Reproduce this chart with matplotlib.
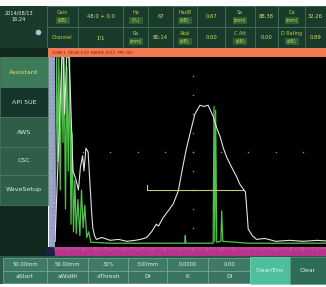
import matplotlib
matplotlib.use("Agg")
import matplotlib.pyplot as plt
from matplotlib.patches import Rectangle

### DATA
# header readings: (label, unit, value) for the two rows
row1_labels = ["Gain", "Ha", "HadB", "Sa", "Da"]
row1_units = ["(dB)", "(%)", "(dB)", "(mm)", "(mm)"]
row1_values = ["48.0 + 0.0", "67", "0.67", "88.38", "32.26"]
row2_labels = ["Channel", "Ra", "Akal", "C Att", "D Rating"]
row2_units = ["", "(mm)", "(dB)", "(dB)", "(dB)"]
row2_values = ["1/1", "80.14", "0.00", "0.00", "0.89"]

menu_items = ["Assistant", "API 5UE", "AWS", "CSC", "WaveSetup"]

param_values = ["50.00mm", "50.00mm", "30%", "3.00mm", "0.0000", "0.00"]
param_names = ["aStart", "aWidth", "aThresh", "Dr", "K", "Di"]

# A-scan, % of screen width vs % amplitude
white_x = [0, 1.5, 2.5, 3.0, 3.5, 4.2, 5.0, 5.5, 6.5, 7.5, 8.5, 9.2, 10.0, 10.5,
           11.2, 12.0, 12.6, 13.2, 13.7, 14.3, 15, 17, 20, 23, 26, 29, 31, 33.2,
           35, 36.7, 37.5, 39.2, 41, 42.8, 44, 44.7, 45.5, 46.5, 47.5, 48.9, 50,
           50.7, 52.5, 54, 55.5, 57.4, 58.5, 59.9, 61, 62.2, 64, 65.9, 67, 68.2,
           69, 69.6, 70, 71.5, 73, 76, 80, 85, 90, 95, 100]
white_y = [3, 60, 100, 100, 70, 100, 100, 85, 40, 36, 30, 42, 48, 40,
           52, 50, 35, 20, 10, 6, 4, 5, 3.5, 4, 3, 3.5, 4, 5,
           8, 12, 11, 15.5, 19, 22.6, 27, 29.6, 36, 43.7, 51, 59.6, 66,
           70, 74.6, 74, 74.6, 68.4, 63, 57.8, 52, 47.3, 42, 36.7, 33, 30.5,
           29, 18, 9.4, 6, 4, 4.5, 3, 3.5, 3, 3.5, 3]

green_x = [0, 0.6, 1.0, 1.4, 1.9, 2.4, 2.9, 3.3, 3.8, 4.3, 4.8, 5.3, 5.8, 6.2,
           6.7, 7.2, 7.7, 8.3, 9.0, 9.6, 10.2, 10.8, 11.5, 12.2, 13, 20, 30, 40,
           47, 47.2, 47.4, 55, 57.3, 57.6, 57.9, 58.2, 58.6, 60.1, 60.4, 60.8,
           70, 80, 90, 100]
green_y = [3, 100, 45, 100, 30, 100, 55, 100, 20, 95, 40, 100, 12, 60,
           8, 35, 7, 25, 6, 30, 10, 22, 5, 8, 2.5, 2, 2, 2,
           2, 6, 2, 2, 2, 74, 3, 72, 2.5, 3, 19, 3,
           2, 2, 2, 2]

gate_start, gate_end, gate_level = 33.2, 68.2, 30

### FIGURE
fig = plt.figure(figsize=(3.26, 2.87), dpi=100)
fig.patch.set_facecolor("white")
ui = fig.add_axes([0, 0, 1, 1])
ui.set_xlim(0, 326)
ui.set_ylim(287, 0)
ui.axis("off")


def box(x0, y0, x1, y1, fc, ec="none", lw=0.5):
    ui.add_patch(Rectangle((x0, y0), x1 - x0, y1 - y0, facecolor=fc,
                           edgecolor=ec, linewidth=lw))


### HEADER
box(0, 6, 326, 48, "#1a3a2b")
ui.text(19, 13, "2014/08/13", color="#e4eee8", fontsize=3.6, ha="center", va="center")
ui.text(19, 19.5, "16:24", color="#e4eee8", fontsize=3.6, ha="center", va="center")
ui.plot(38, 32, marker="o", ms=3, color="#a8c4d8")
box(8, 50, 17, 54, "#d8dde0")

col_edges = [47, 123, 173, 225, 278, 326]
col_split = [78, 148, 197, 255, 305]
for row, (labels, units, values) in enumerate(
        [(row1_labels, row1_units, row1_values), (row2_labels, row2_units, row2_values)]):
    y0, y1 = (6, 27) if row == 0 else (27, 48)
    for i in range(5):
        box(col_edges[i], y0, col_edges[i + 1], y1, "#1a3a2b", "#3f6f52", 0.6)
        box(col_edges[i], y0, col_split[i], y1, "none", "#3f6f52", 0.6)
        lx = (col_edges[i] + col_split[i]) / 2
        vx = (col_split[i] + col_edges[i + 1]) / 2
        if units[i]:
            ui.text(lx, y0 + 6.5, labels[i], color="#b4d23c", fontsize=3.5,
                    ha="center", va="center")
            box(lx - 7, y0 + 11, lx + 7, y0 + 18, "#2d5e3a")
            ui.text(lx, y0 + 14.5, units[i], color="#c8e040", fontsize=3.3,
                    ha="center", va="center")
        else:
            ui.text(lx, (y0 + y1) / 2, labels[i], color="#b4d23c", fontsize=3.6,
                    ha="center", va="center")
        ui.text(vx, (y0 + y1) / 2, values[i], color="#d4e068", fontsize=3.8,
                ha="center", va="center")

# orange status strip
box(48, 48, 326, 57, "#f07a52")
ui.text(52, 52.5, "ZONE 1  DELAY 0.00  RANGE 100.0  PRF 200", color="#8c1c10",
        fontsize=2.6, ha="left", va="center")

### LEFT MENU
box(0, 48, 48, 256, "#10281d")
menu_y = [57, 87, 117, 147, 175, 205]
for i, name in enumerate(menu_items):
    if i == 0:
        fc, tc = "#3d7b5b", "#e6e25a"
    elif i == 1:
        fc, tc = "#16352a", "#dce8e2"
    else:
        fc, tc = "#2e5e48", "#dce8e2"
    box(0, menu_y[i], 48, menu_y[i + 1], fc, "#4f7f66", 0.5)
    ui.text(24, (menu_y[i] + menu_y[i + 1]) / 2, name, color=tc, fontsize=4.6,
            ha="center", va="center")

# vertical amplitude scale
box(48.5, 57, 55, 247, "#9ca4cc")
for k in range(51):
    yy = 57 + k * 190 / 50
    ui.plot([53 if k % 5 else 51, 55], [yy, yy], color="#6a6f9a", lw=0.3)
box(46, 247, 55, 256, "#1c2244")

# magenta range strip
box(55, 247, 326, 256, "#b8348a")
for k in range(0, 99):
    xx = 55 + k * 2.76
    if xx > 326:
        break
    ui.plot([xx, xx], [247, 249 if k % 5 else 251], color="#e88cc4", lw=0.35)

### BOTTOM PARAMETER BUTTONS
box(0, 256, 326, 284, "#2b5a48")
param_edges = [3, 47, 88, 128, 167, 208, 250]
for i in range(6):
    box(param_edges[i], 258, param_edges[i + 1], 270.5, "#3e7a67", "#7aaa98", 0.5)
    box(param_edges[i], 270.5, param_edges[i + 1], 283, "#3a7462", "#7aaa98", 0.5)
    cx = (param_edges[i] + param_edges[i + 1]) / 2
    ui.text(cx, 264.3, param_values[i], color="#e4eee8", fontsize=3.8,
            ha="center", va="center")
    ui.text(cx, 276.8, param_names[i], color="#e4eee8", fontsize=4.2,
            ha="center", va="center")
box(250, 257, 290, 284, "#4dbf9c", "#7fd8bc", 0.5)
ui.text(270, 270.5, "Clear/Env", color="#e8f6f0", fontsize=4.2, ha="center", va="center")
box(290, 257, 326, 284, "#2f6c57", "#5f9482", 0.5)
ui.text(308, 270.5, "Clear", color="#e4eee8", fontsize=4.4, ha="center", va="center")

### A-SCAN AREA
ax = fig.add_axes([55 / 326, (287 - 247) / 287, 271 / 326, 190 / 287])
ax.set_facecolor("black")
ax.set_xlim(0, 271 / 2.76)
ax.set_ylim(0, 100)
ax.set_xticks([])
ax.set_yticks([])
for s in ax.spines.values():
    s.set_visible(False)

# dotted graticule: centre row and centre column
for gx in range(10, 100, 10):
    ax.plot(gx, 50, marker="o", ms=1.1, color="#8a8a8a", mec="none")
for gy in range(10, 100, 10):
    ax.plot(50, gy, marker="o", ms=1.1, color="#8a8a8a", mec="none")

ax.plot(green_x, green_y, color="#4fc24a", lw=0.9, zorder=3)
ax.plot(white_x, white_y, color="#e2e2e2", lw=0.8, zorder=4)

# gate
ax.plot([gate_start, gate_end], [gate_level, gate_level], color="#c8c87a", lw=0.8, zorder=5)
ax.plot([gate_start, gate_start], [gate_level, gate_level + 2.5], color="#c8c87a", lw=0.8, zorder=5)

fig.savefig("out.png", dpi=100, facecolor="white")
